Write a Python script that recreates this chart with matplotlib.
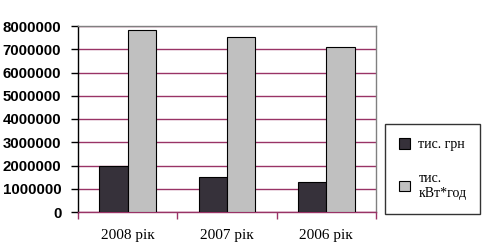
import matplotlib
matplotlib.use("Agg")
import matplotlib.pyplot as plt
import numpy as np

categories = ["2008 рік", "2007 рік", "2006 рік"]
series_names = ["тис. грн", "тис.\nкВт*год"]
uah = [2000000, 1500000, 1280000]
kwh = [7830000, 7510000, 7080000]
yticks = [0, 1000000, 2000000, 3000000, 4000000, 5000000, 6000000, 7000000, 8000000]

dark = "#36313a"
grey = "#c0c0c0"
grid_c = "#993366"

fig = plt.figure(figsize=(4.88, 2.52), dpi=100)
ax = fig.add_axes([78/488, 40/252, 298/488, 186/252])

x = np.arange(len(categories))
w = 1/3.5
ax.bar(x - w/2, uah, width=w, color=dark, edgecolor="black", linewidth=0.8, label=series_names[0], zorder=3)
ax.bar(x + w/2, kwh, width=w, color=grey, edgecolor="black", linewidth=0.8, label=series_names[1], zorder=3)

ax.set_xlim(-0.5, len(categories) - 0.5)
ax.set_ylim(0, 8000000)
ax.set_yticks(yticks)
ax.set_yticklabels([str(v) for v in yticks], fontfamily="Liberation Sans", fontsize=10.8, fontweight="bold")
ax.yaxis.grid(True, color=grid_c, linewidth=1, zorder=0)
ax.set_axisbelow(True)

ax.set_xticks(x)
ax.set_xticklabels(categories, fontfamily="Liberation Serif", fontsize=11)
ax.tick_params(axis="x", length=0, pad=12)
ax.set_xticks(np.arange(len(categories) + 1) - 0.5, minor=True)
ax.tick_params(axis="x", which="minor", length=5, color=grid_c, width=1)
ax.tick_params(axis="y", length=5, color="black", width=1, pad=7)

ax.spines["top"].set_color("#808080")
ax.spines["right"].set_color("#808080")
ax.spines["left"].set_color("black")
ax.spines["bottom"].set_color(grid_c)
for s in ax.spines.values():
    s.set_linewidth(1)

leg = fig.legend(loc="upper left", bbox_to_anchor=(385/488, 1 - 124/252),
                 prop={"family": "Liberation Serif", "size": 10},
                 frameon=True, fancybox=False, edgecolor="black",
                 handlelength=0.8, handleheight=0.8, handletextpad=0.6,
                 labelspacing=1.5, borderpad=1.0, borderaxespad=0)
leg.get_frame().set_linewidth(1)

fig.savefig("out.png", dpi=100)
